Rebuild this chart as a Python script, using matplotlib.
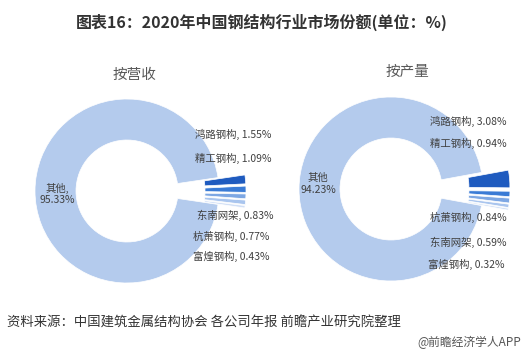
"""2020 China steel structure market share: two exploded donuts."""
import matplotlib
matplotlib.use("Agg")
import matplotlib.pyplot as plt

plt.rcParams["font.family"] = ["Noto Sans CJK SC", "DejaVu Sans"]

W, H = 525, 357

# --- data
rev_names = ["鸿路钢构", "精工钢构", "东南网架", "杭萧钢构", "富煌钢构"]
rev_share = [1.55, 1.09, 0.83, 0.77, 0.43]
rev_other = 95.33

out_names = ["鸿路钢构", "精工钢构", "杭萧钢构", "东南网架", "富煌钢构"]
out_share = [3.08, 0.94, 0.84, 0.59, 0.32]
out_other = 94.23

small_colors = ["#1f5bbf", "#3a7bd5", "#7da7e3", "#a9c5ee", "#d2e0f6"]
other_color = "#b4cbed"
label_color = "#404040"

fig = plt.figure(figsize=(W / 100, H / 100), dpi=100)
ax = fig.add_axes([0, 0, 1, 1])


def donut(cx, cy, shares, other):
    """Draw one donut (pixel coords, y measured from top)."""
    vals = shares + [other]
    start = 360 * sum(shares) / 100 / 2
    ax.pie(vals, center=(cx, H - cy), radius=92, startangle=start,
           counterclock=False, colors=small_colors + [other_color],
           explode=[27] * len(shares) + [0],
           wedgeprops=dict(width=41, edgecolor="white", linewidth=0.5))


donut(127, 191, rev_share, rev_other)
donut(391, 189, out_share, out_other)

# --- labels, left chart
for (name, v), (x, y) in zip(zip(rev_names, rev_share),
                             [(195, 134), (195, 158), (197, 215), (193, 236), (193, 256)]):
    ax.text(x, H - y, f"{name}, {v:.2f}%", fontsize=7.5, color=label_color,
            va="center", ha="left")
ax.text(57, H - 194, f"其他,\n{rev_other:.2f}%", fontsize=7.5, color=label_color,
        va="center", ha="center", linespacing=1.2)

# --- labels, right chart
for (name, v), (x, y) in zip(zip(out_names, out_share),
                             [(430, 121), (430, 143), (430, 217), (430, 242), (428, 264)]):
    ax.text(x, H - y, f"{name}, {v:.2f}%", fontsize=7.5, color=label_color,
            va="center", ha="left")
ax.text(318, H - 184, f"其他\n{out_other:.2f}%", fontsize=7.5, color=label_color,
        va="center", ha="center", linespacing=1.2)

# --- subtitles
ax.text(134, H - 75, "按营收", fontsize=10.5, color="#595959", ha="center", va="center")
ax.text(407, H - 72, "按产量", fontsize=10.5, color="#595959", ha="center", va="center")

# --- title / source
ax.text(262, H - 22, "图表16：2020年中国钢结构行业市场份额(单位：%)", fontsize=11.5,
        fontweight="bold", color="#333333", ha="center", va="center")
ax.text(7, H - 323, "资料来源：中国建筑金属结构协会 各公司年报 前瞻产业研究院整理",
        fontsize=9.6, color="#333333", ha="left", va="center")
ax.text(521, H - 342, "@前瞻经济学人APP", fontsize=8.5, color="#555555",
        ha="right", va="center")

ax.set_xlim(0, W)
ax.set_ylim(0, H)
ax.set_aspect("auto")
ax.axis("off")

fig.savefig("out.png", dpi=100)
